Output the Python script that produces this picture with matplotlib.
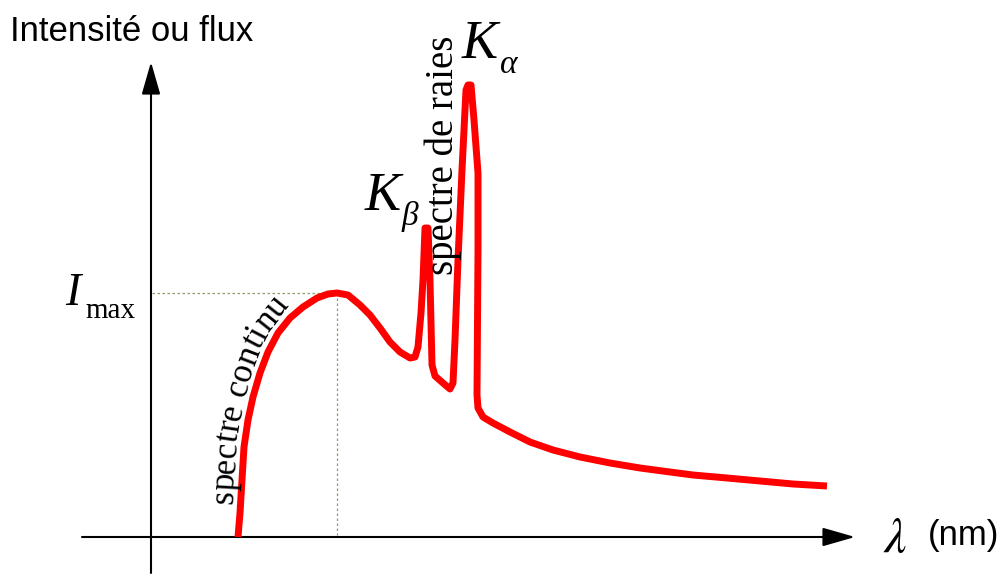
import numpy as np
import matplotlib
matplotlib.use("Agg")
import matplotlib.pyplot as plt
from matplotlib import font_manager
from matplotlib.ft2font import FT2Font

# Spectre d'émission X : longueur d'onde / intensité (unités arbitraires)
lam = [87, 89, 91, 93, 97, 102, 109, 117, 127, 139, 152, 166, 177, 186,
       197, 209, 219, 229, 239, 249, 259, 264, 267, 270, 272,
       274, 277, 279, 281, 284, 292, 299, 302, 304, 307, 311, 315, 317,
       320, 323, 327, 327, 326, 327, 332, 342, 359, 379, 402, 429, 459,
       489, 519, 542, 576, 609, 642, 676]
intensite = [0, 24, 57, 90, 117, 140, 164, 185, 204, 219, 230, 239, 243,
             244, 242, 232, 222, 209, 195, 185, 179, 180, 190, 224, 257,
             309, 309, 257, 172, 161, 154, 148, 154, 197, 277, 367, 447,
             452, 452, 417, 364, 287, 142, 129, 120, 114, 105, 95, 87, 80,
             74, 69, 65, 62, 59, 56, 53, 51]
i_pic = 13  # maximum du spectre continu

titre_y = "Intensité ou flux"
unite_x = "(nm)"
txt_continu = "spectre continu"
txt_raies = "spectre de raies"

SERIF = "Liberation Serif"
SANS = "Liberation Sans"

fig = plt.figure(figsize=(10.02, 5.74), dpi=100)
ax = fig.add_axes([0, 0, 1, 1])
ax.set_xlim(-151, 851)
ax.set_ylim(-37, 537)
ax.axis("off")

# axes fléchés
fleche = dict(arrowstyle="-|>,head_length=0.8,head_width=0.23",
              mutation_scale=25, lw=1.5, color="black",
              shrinkA=0, shrinkB=0)
ax.annotate("", xy=(0, 475), xytext=(0, -36), arrowprops=fleche)
ax.annotate("", xy=(704, 0), xytext=(-69, 0), arrowprops=fleche)

# repères du maximum
lam_max = lam[i_pic]
i_max = intensite[i_pic]
ax.plot([1, lam_max], [i_max, i_max], color="#8c9a6e", lw=0.9,
        ls=(0, (2, 2)))
ax.plot([lam_max, lam_max], [i_max, 2], color="#8c9a6e", lw=0.9,
        ls=(0, (2, 2)))

# la courbe
ax.plot(lam, intensite, color="#ff0000", lw=5, solid_joinstyle="round",
        solid_capstyle="butt", zorder=3)

# textes
ax.text(-141, 496, titre_y, family=SANS, fontsize=25, ha="left",
        va="baseline")
ax.text(732, -15, r"$\lambda$", fontsize=36, ha="left", va="baseline",
        math_fontfamily="stix")
ax.text(777, -8, unite_x, family=SANS, fontsize=25, ha="left",
        va="baseline")

ax.text(-86, 232, "I", family=SERIF, style="italic", fontsize=33,
        ha="left", va="baseline")
ax.text(-66, 219, "max", family=SERIF, fontsize=21, ha="left",
        va="baseline")

ax.text(311, 479, "K", family=SERIF, style="italic", fontsize=39,
        ha="left", va="baseline")
ax.text(349, 464, "α", family=SERIF, style="italic", fontsize=24,
        ha="left", va="baseline")
ax.text(214, 327, "K", family=SERIF, style="italic", fontsize=39,
        ha="left", va="baseline")
ax.text(251, 312, "β", family=SERIF, style="italic", fontsize=24,
        ha="left", va="baseline")

ax.text(302, 262, txt_raies, family=SERIF, fontsize=28, rotation=90,
        rotation_mode="anchor", ha="left", va="baseline")

# "spectre continu" posé le long de la montée de la courbe
taille = 25
fp = font_manager.FontProperties(family=SERIF, size=taille)
ft = FT2Font(font_manager.findfont(fp))
ft.set_size(taille, fig.dpi)
avances = [ft.load_char(ord(c)).linearHoriAdvance / 65536 for c in txt_continu]

px = np.array(lam[:i_pic + 1], dtype=float)
py = np.array(intensite[:i_pic + 1], dtype=float)
tx, ty = np.gradient(px), np.gradient(py)
norme = np.hypot(tx, ty)
tx, ty = tx / norme, ty / norme
bx, by = px - 8 * ty, py + 8 * tx
s = np.concatenate([[0], np.cumsum(np.hypot(np.diff(bx), np.diff(by)))])

pos = 32.0
for c, a in zip(txt_continu, avances):
    m = pos + a / 2
    x = np.interp(m, s, bx)
    y = np.interp(m, s, by)
    k = min(np.searchsorted(s, m), len(s) - 1)
    k = max(k, 1)
    ang = np.degrees(np.arctan2(by[k] - by[k - 1], bx[k] - bx[k - 1]))
    ax.text(x, y, c, family=SERIF, fontsize=taille, rotation=ang,
            rotation_mode="anchor", ha="center", va="baseline")
    pos += a

fig.savefig("out.png", dpi=100)
